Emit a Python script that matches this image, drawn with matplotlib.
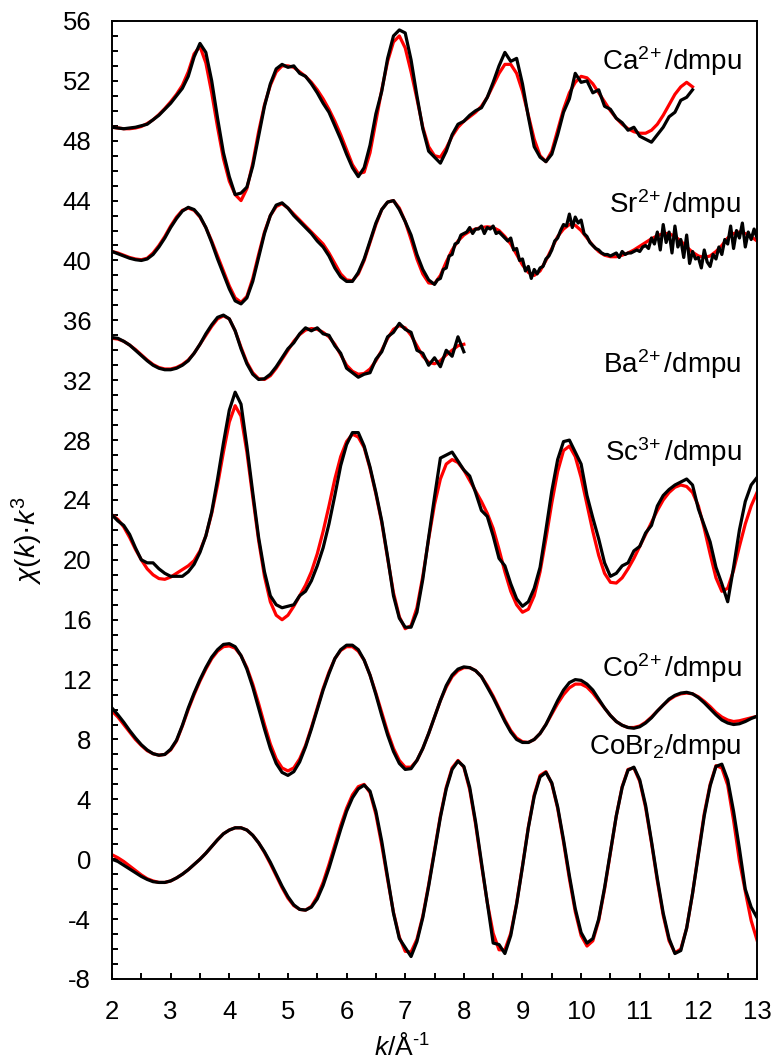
import numpy as np
import matplotlib
matplotlib.use("Agg")
import matplotlib.pyplot as plt
from matplotlib.ticker import MultipleLocator

plt.rcParams['font.family'] = ['Liberation Sans', 'DejaVu Sans']
plt.rcParams['mathtext.fontset'] = 'custom'
plt.rcParams['mathtext.rm'] = 'Liberation Sans'
plt.rcParams['mathtext.it'] = 'Liberation Sans:italic'
plt.rcParams['mathtext.bf'] = 'Liberation Sans:bold'
plt.rcParams['axes.unicode_minus'] = False

# EXAFS k^3-weighted data (black) and model fits (red), offset vertically.
# All series are sampled on a 0.1 A^-1 grid starting at k = 2.
K0, DK = 2.0, 0.1

ca_fit = [48.9, 48.85, 48.8, 48.8, 48.85, 48.95, 49.15, 49.4, 49.75, 50.15,
          50.6, 51.1, 51.7, 52.6, 53.8, 54.3, 53.2, 51.2, 48.9, 46.8,
          45.3, 44.4, 44.0, 44.8, 46.5, 48.6, 50.4, 51.7, 52.6, 53.0,
          53.0, 52.9, 52.6, 52.3, 51.9, 51.4, 50.8, 50.1, 49.3, 48.4,
          47.4, 46.4, 45.8, 45.9, 47.2, 49.3, 51.4, 53.3, 54.6, 55.0,
          54.2, 52.6, 50.8, 48.9, 47.6, 47.0, 46.9, 47.5, 48.3, 48.9,
          49.3, 49.6, 49.9, 50.3, 50.9, 51.7, 52.5, 53.1, 53.1, 52.5,
          51.3, 49.7, 48.1, 47.0, 46.6, 47.3, 48.7, 50.1, 51.2, 51.9,
          52.3, 52.2, 51.8, 51.2, 50.6, 50.0, 49.5, 49.1, 48.8, 48.6,
          48.5, 48.5, 48.7, 49.1, 49.7, 50.4, 51.1, 51.6, 51.9, 51.6]
ca_obs = [48.9, 48.85, 48.8, 48.85, 48.9, 49.0, 49.1, 49.4, 49.7, 50.1,
          50.5, 51.0, 51.5, 52.3, 53.6, 54.5, 53.9, 52.0, 49.5, 47.2,
          45.6, 44.4, 44.5, 44.9, 46.3, 48.3, 50.3, 51.8, 52.8, 53.1,
          52.9, 53.0, 52.5, 52.3, 51.8, 51.2, 50.5, 49.9, 49.0, 48.1,
          47.1, 46.2, 45.6, 46.2, 47.7, 49.8, 51.3, 53.5, 55.0, 55.4,
          55.2, 53.4, 51.0, 48.8, 47.3, 46.9, 46.5, 47.3, 48.4, 49.1,
          49.3, 49.7, 50.0, 50.2, 50.9, 51.9, 53.0, 53.9, 53.3, 53.5,
          51.8, 49.6, 47.6, 46.9, 46.6, 47.1, 48.4, 49.9, 50.8, 52.5,
          51.9, 52.0, 51.2, 51.4, 50.3, 50.1, 49.5, 49.2, 48.7, 48.9,
          48.3, 48.1, 47.9, 48.4, 48.9, 49.6, 49.9, 50.7, 50.9, 51.4]

sr_fit = [40.6, 40.5, 40.35, 40.2, 40.1, 40.05, 40.15, 40.5, 41.0, 41.6,
          42.3, 42.9, 43.35, 43.5, 43.35, 42.9, 42.2, 41.3, 40.3, 39.3,
          38.3, 37.5, 37.2, 37.6, 38.8, 40.4, 41.9, 43.0, 43.6, 43.8,
          43.5, 43.1, 42.7, 42.3, 41.9, 41.5, 41.1, 40.5, 39.8, 39.1,
          38.7, 38.65, 39.1, 40.0, 41.2, 42.4, 43.4, 43.9, 44.0, 43.5,
          42.6, 41.4, 40.1, 39.1, 38.5, 38.45, 39.0, 39.9, 40.7, 41.3,
          41.7, 41.95, 42.1, 42.2, 42.25, 42.2, 42.0, 41.6, 41.1, 40.4,
          39.7, 39.2, 39.0, 39.3, 40.0, 40.8, 41.6, 42.1, 42.4, 42.35,
          42.0, 41.5, 41.0, 40.6, 40.35, 40.25, 40.25, 40.35, 40.5, 40.7,
          40.95, 41.2, 41.45, 41.65, 41.8, 41.8, 41.6, 41.3, 40.9, 40.55,
          40.3, 40.2, 40.3, 40.6, 41.0, 41.5, 41.8, 41.9, 41.8, 41.6,
          41.3]
# measured Sr spectrum: 0.1 steps up to 7.4, then 0.05 steps (noisy tail)
sr_obs_lo = [40.6, 40.45, 40.3, 40.15, 40.05, 40.0, 40.1, 40.4, 40.9, 41.5,
             42.2, 42.8, 43.3, 43.55, 43.4, 42.95, 42.2, 41.2, 40.1, 39.1,
             38.1, 37.3, 37.1, 37.5, 38.6, 40.2, 41.8, 43.0, 43.7, 43.85,
             43.5, 43.0, 42.6, 42.2, 41.8, 41.3, 40.9, 40.3, 39.5, 38.9,
             38.6, 38.6, 39.2, 40.1, 41.3, 42.5, 43.4, 43.9, 44.0, 43.4,
             42.6, 41.7, 40.4, 39.4, 38.7]
sr_obs_hi = [38.4, 38.7, 38.8, 39.4, 39.5, 40.3, 40.4, 41.1, 41.2, 41.7,
             41.8, 41.9, 42.2, 41.8, 42.1, 42.1, 42.3, 41.8, 42.2, 42.1,
             42.3, 41.8, 41.9, 41.7, 41.5, 41.3, 41.5, 40.7, 40.8, 40.0,
             40.1, 39.3, 39.6, 38.8, 39.4, 39.1, 39.5, 39.6, 40.1, 40.3,
             40.7, 41.3, 41.5, 42.0, 42.4, 42.3, 43.1, 42.2, 42.9, 42.5,
             42.7, 41.8, 41.6, 41.2, 41.0, 40.8, 40.7, 40.5, 40.4, 40.4,
             40.3, 40.4, 40.5, 40.2, 40.6, 40.4, 40.5, 40.5, 40.6, 40.7,
             40.6, 40.9, 41.0, 40.8, 41.5, 41.1, 41.9, 40.7, 42.4, 41.2,
             41.9, 40.5, 42.3, 40.9, 41.4, 40.2, 41.7, 39.8, 40.6, 40.1,
             40.2, 39.5, 40.7, 39.9, 39.6, 40.4, 40.1, 40.9, 40.4, 41.4,
             41.1, 42.3, 40.8, 42.0, 41.5, 42.5, 40.9, 41.9, 41.4, 42.1,
             41.5]

ba_fit = [34.8, 34.75, 34.6, 34.35, 34.05, 33.7, 33.35, 33.05, 32.85, 32.75,
          32.75, 32.85, 33.05, 33.35, 33.8, 34.4, 35.0, 35.6, 36.1, 36.3,
          36.1, 35.3, 34.2, 33.2, 32.5, 32.1, 32.05, 32.3, 32.8, 33.4,
          34.0, 34.6, 35.05, 35.35, 35.45, 35.4, 35.2, 34.9, 34.4, 33.7,
          33.0, 32.6, 32.4, 32.45, 32.75, 33.3, 34.0, 34.8, 35.4, 35.65,
          35.5, 35.0, 34.3, 33.6, 33.2, 33.1, 33.3, 33.7, 34.0, 34.3,
          34.4]
ba_obs = [34.85, 34.8, 34.6, 34.35, 34.0, 33.65, 33.3, 33.0, 32.8, 32.7,
          32.7, 32.8, 33.0, 33.3, 33.8, 34.4, 35.1, 35.7, 36.2, 36.35,
          36.1, 35.3, 34.1, 33.1, 32.4, 32.05, 32.1, 32.4, 32.9, 33.5,
          34.1, 34.5, 35.1, 35.5, 35.3, 35.5, 35.1, 35.0, 34.3, 33.8,
          32.8, 32.5, 32.2, 32.4, 32.5, 33.4, 33.9, 34.9, 35.2, 35.8,
          35.4, 35.2, 34.0, 33.8, 33.0, 33.5, 32.9, 34.0, 33.6, 34.9,
          33.9]

sc_fit = [23.0, 22.7, 22.2, 21.5, 20.7, 20.0, 19.4, 19.0, 18.75, 18.7,
          18.85, 19.1, 19.35, 19.6, 19.95, 20.6, 21.6, 23.1, 25.0, 27.2,
          29.2, 30.3, 29.6, 27.2, 24.2, 21.3, 18.9, 17.2, 16.3, 16.0,
          16.3, 16.9, 17.6, 18.3, 19.2, 20.4, 21.9, 23.6, 25.4, 26.9,
          27.9, 28.4, 28.2, 27.5, 26.1, 24.4, 22.5, 20.1, 17.8, 16.2,
          15.4, 15.6, 16.8, 18.9, 21.4, 23.7, 25.4, 26.4, 26.7, 26.5,
          26.0, 25.3, 24.6, 23.9, 23.1, 22.1, 20.7, 19.2, 17.9, 17.0,
          16.5, 16.7, 17.6, 19.2, 21.4, 23.8, 25.9, 27.3, 27.6, 26.9,
          25.5, 23.7, 21.9, 20.3, 19.1, 18.5, 18.45, 18.8, 19.4, 20.1,
          20.9, 21.7, 22.5, 23.3, 24.0, 24.5, 24.85, 25.0, 24.9, 24.5,
          23.6, 22.1, 20.4, 18.8, 17.9, 18.1, 19.3, 20.9, 22.4, 23.6,
          24.5]
sc_obs = [23.0, 22.6, 22.3, 21.7, 20.8, 20.0, 19.8, 19.8, 19.4, 19.1,
          18.9, 18.9, 18.9, 19.2, 19.7, 20.5, 21.6, 23.2, 25.4, 27.8,
          30.0, 31.2, 30.4, 27.6, 24.5, 21.5, 19.2, 17.6, 17.0, 16.8,
          16.9, 17.0, 17.6, 17.9, 18.6, 19.6, 20.8, 22.4, 24.3, 26.3,
          27.7, 28.5, 28.5, 27.6, 26.2, 24.5, 22.6, 20.2, 17.6, 16.1,
          15.5, 15.5, 16.5, 18.7, 21.5, 24.2, 26.8, 27.0, 27.2, 26.6,
          26.0, 25.6, 24.5, 23.3, 22.9, 21.6, 20.1, 19.6, 18.4, 17.4,
          16.9, 17.2, 18.1, 19.5, 22.0, 24.6, 26.7, 27.9, 28.0, 27.2,
          26.4, 24.3, 22.8, 21.4, 19.8, 18.9, 19.1, 19.6, 19.8, 20.6,
          20.9, 21.8, 22.3, 23.6, 24.3, 24.7, 25.0, 25.2, 25.4, 25.0,
          23.4, 22.3, 21.2, 19.5, 18.4, 17.2, 19.5, 22.0, 23.9, 25.0,
          25.5]

co_fit = [9.9, 9.5, 9.0, 8.5, 8.0, 7.6, 7.25, 7.05, 6.95, 7.0,
          7.3, 7.9, 8.9, 10.0, 11.0, 11.9, 12.7, 13.4, 13.9, 14.2,
          14.25, 14.1, 13.6, 12.8, 11.7, 10.4, 9.0, 7.7, 6.7, 6.1,
          5.9, 6.1, 6.7, 7.6, 8.8, 10.1, 11.4, 12.5, 13.4, 13.95,
          14.2, 14.2, 13.9, 13.3, 12.3, 11.1, 9.8, 8.5, 7.4, 6.6,
          6.15, 6.15, 6.6, 7.4, 8.4, 9.5, 10.6, 11.5, 12.2, 12.6,
          12.8, 12.8, 12.6, 12.2, 11.6, 10.9, 10.1, 9.3, 8.6, 8.1,
          7.85, 7.8, 8.0, 8.4, 9.0, 9.7, 10.4, 11.0, 11.45, 11.7,
          11.7, 11.5, 11.1, 10.6, 10.1, 9.6, 9.2, 8.95, 8.8, 8.8,
          8.9, 9.15, 9.5, 9.9, 10.3, 10.65, 10.9, 11.05, 11.1, 11.05,
          10.85, 10.55, 10.2, 9.8, 9.5, 9.3, 9.2, 9.25, 9.35, 9.45,
          9.55]
co_obs = [10.1, 9.65, 9.15, 8.6, 8.1, 7.65, 7.3, 7.05, 6.95, 7.0,
          7.35, 7.95, 8.95, 10.1, 11.1, 12.0, 12.8, 13.5, 14.0, 14.35,
          14.4, 14.2, 13.6, 12.7, 11.5, 10.1, 8.7, 7.4, 6.4, 5.8,
          5.6, 5.85, 6.5, 7.5, 8.7, 10.0, 11.3, 12.4, 13.4, 14.0,
          14.3, 14.3, 14.0, 13.3, 12.3, 11.0, 9.6, 8.3, 7.2, 6.4,
          6.0, 6.05, 6.6, 7.4, 8.4, 9.5, 10.6, 11.6, 12.3, 12.7,
          12.85, 12.8, 12.6, 12.2, 11.5, 10.8, 10.0, 9.2, 8.5, 8.0,
          7.8, 7.8, 8.0, 8.4, 9.0, 9.8, 10.6, 11.3, 11.8, 12.0,
          11.95, 11.7, 11.3, 10.7, 10.1, 9.6, 9.2, 8.95, 8.8, 8.75,
          8.85, 9.1, 9.45, 9.9, 10.3, 10.7, 10.95, 11.1, 11.15, 11.05,
          10.8, 10.45, 10.05, 9.65, 9.3, 9.1, 9.0, 9.05, 9.2, 9.4,
          9.55]

cobr_fit = [0.3, 0.1, -0.15, -0.45, -0.75, -1.05, -1.3, -1.45, -1.55, -1.55,
            -1.45, -1.25, -1.0, -0.7, -0.35, 0.0, 0.4, 0.85, 1.3, 1.7,
            1.95, 2.1, 2.1, 1.95, 1.6, 1.1, 0.45, -0.3, -1.1, -1.9,
            -2.6, -3.1, -3.35, -3.4, -3.15, -2.5, -1.55, -0.35, 0.95, 2.25,
            3.4, 4.3, 4.85, 5.0, 4.45, 3.0, 0.95, -1.35, -3.55, -5.2,
            -6.15, -6.2, -5.35, -3.8, -1.7, 0.6, 2.9, 4.8, 6.1, 6.6,
            6.15, 4.65, 2.35, -0.35, -2.9, -4.95, -6.05, -6.05, -4.95, -2.95,
            -0.45, 2.15, 4.3, 5.6, 5.85, 5.05, 3.4, 1.15, -1.3, -3.5,
            -5.1, -5.8, -5.45, -4.1, -2.0, 0.45, 2.9, 4.85, 6.0, 6.1,
            5.2, 3.45, 1.1, -1.45, -3.75, -5.45, -6.25, -6.0, -4.6, -2.3,
            0.4, 3.05, 5.0, 6.25, 6.1, 4.95, 2.6, -0.1, -2.15, -4.1,
            -5.4]
cobr_obs = [0.0, -0.15, -0.4, -0.65, -0.9, -1.15, -1.35, -1.5, -1.55, -1.55,
            -1.45, -1.25, -1.0, -0.7, -0.35, 0.0, 0.4, 0.85, 1.3, 1.7,
            1.95, 2.1, 2.1, 1.95, 1.6, 1.1, 0.5, -0.2, -1.0, -1.8,
            -2.5, -3.05, -3.35, -3.4, -3.2, -2.65, -1.75, -0.6, 0.7, 2.0,
            3.2, 4.1, 4.7, 4.95, 4.55, 3.2, 1.2, -1.2, -3.6, -5.3,
            -5.9, -6.5, -5.5, -3.9, -1.8, 0.5, 2.8, 4.7, 6.0, 6.55,
            6.2, 4.8, 2.5, -0.2, -2.9, -5.6, -5.7, -6.3, -5.1, -3.0,
            -0.5, 2.1, 4.2, 5.5, 5.8, 5.1, 3.5, 1.3, -1.1, -3.3,
            -4.9, -5.6, -5.3, -4.0, -1.9, 0.5, 2.9, 4.8, 5.95, 6.15,
            5.3, 3.6, 1.2, -1.3, -3.6, -5.3, -6.3, -6.1, -4.6, -2.3,
            0.3, 2.9, 4.9, 6.2, 6.35, 5.3, 3.2, 0.7, -2.0, -3.2,
            -3.9]

labels = [r'Ca$^{2\!+}$/dmpu', r'Sr$^{2\!+}$/dmpu', r'Ba$^{2\!+}$/dmpu',
          r'Sc$^{3\!+}$/dmpu', r'Co$^{2\!+}$/dmpu', r'CoBr$_2$/dmpu']
label_y = [52.7, 43.2, 32.5, 26.6, 12.2, 7.0]


def kgrid(vals, start=K0, step=DK):
    return start + step * np.arange(len(vals))


fig = plt.figure(figsize=(7.72, 10.64), dpi=100)
ax = fig.add_axes([0.1451, 0.0799, 0.8355, 0.9004])

red, black = '#ff0000', '#000000'
lw = 2.3

fits = [ca_fit, sr_fit, ba_fit, sc_fit, co_fit, cobr_fit]
for f in fits:
    ax.plot(kgrid(f), f, color=red, lw=lw, zorder=2, solid_joinstyle='round')

obs = [ca_obs, ba_obs, sc_obs, co_obs, cobr_obs]
for o in obs:
    ax.plot(kgrid(o), o, color=black, lw=lw, zorder=3, solid_joinstyle='round')

# Sr data has a finer-sampled tail
sr_k = np.concatenate([kgrid(sr_obs_lo), kgrid(sr_obs_hi, start=7.5, step=0.05)])
ax.plot(sr_k, sr_obs_lo + sr_obs_hi, color=black, lw=lw, zorder=3,
        solid_joinstyle='round')

for txt, y in zip(labels, label_y):
    ax.text(12.73, y, txt, ha='right', va='baseline', fontsize=20)

ax.set_xlim(2, 13)
ax.set_ylim(-8, 56)
ax.xaxis.set_major_locator(MultipleLocator(1))
ax.xaxis.set_minor_locator(MultipleLocator(0.5))
ax.yaxis.set_major_locator(MultipleLocator(4))
ax.yaxis.set_minor_locator(MultipleLocator(1))
ax.tick_params(which='both', direction='in', length=4.5, width=1.4,
               top=False, right=False, labelsize=18.5, pad=15)

for s in ax.spines.values():
    s.set_linewidth(1.4)

ax.set_xlabel(r'$k$/Å$^{\text{-1}}$', fontsize=19)
ax.xaxis.set_label_coords(0.45, -0.056)
ax.set_ylabel(r'$\chi$($k$)·$k^3$', fontsize=20.5)
ax.yaxis.set_label_coords(-0.104, 0.458)

fig.savefig('out.png', dpi=100)
